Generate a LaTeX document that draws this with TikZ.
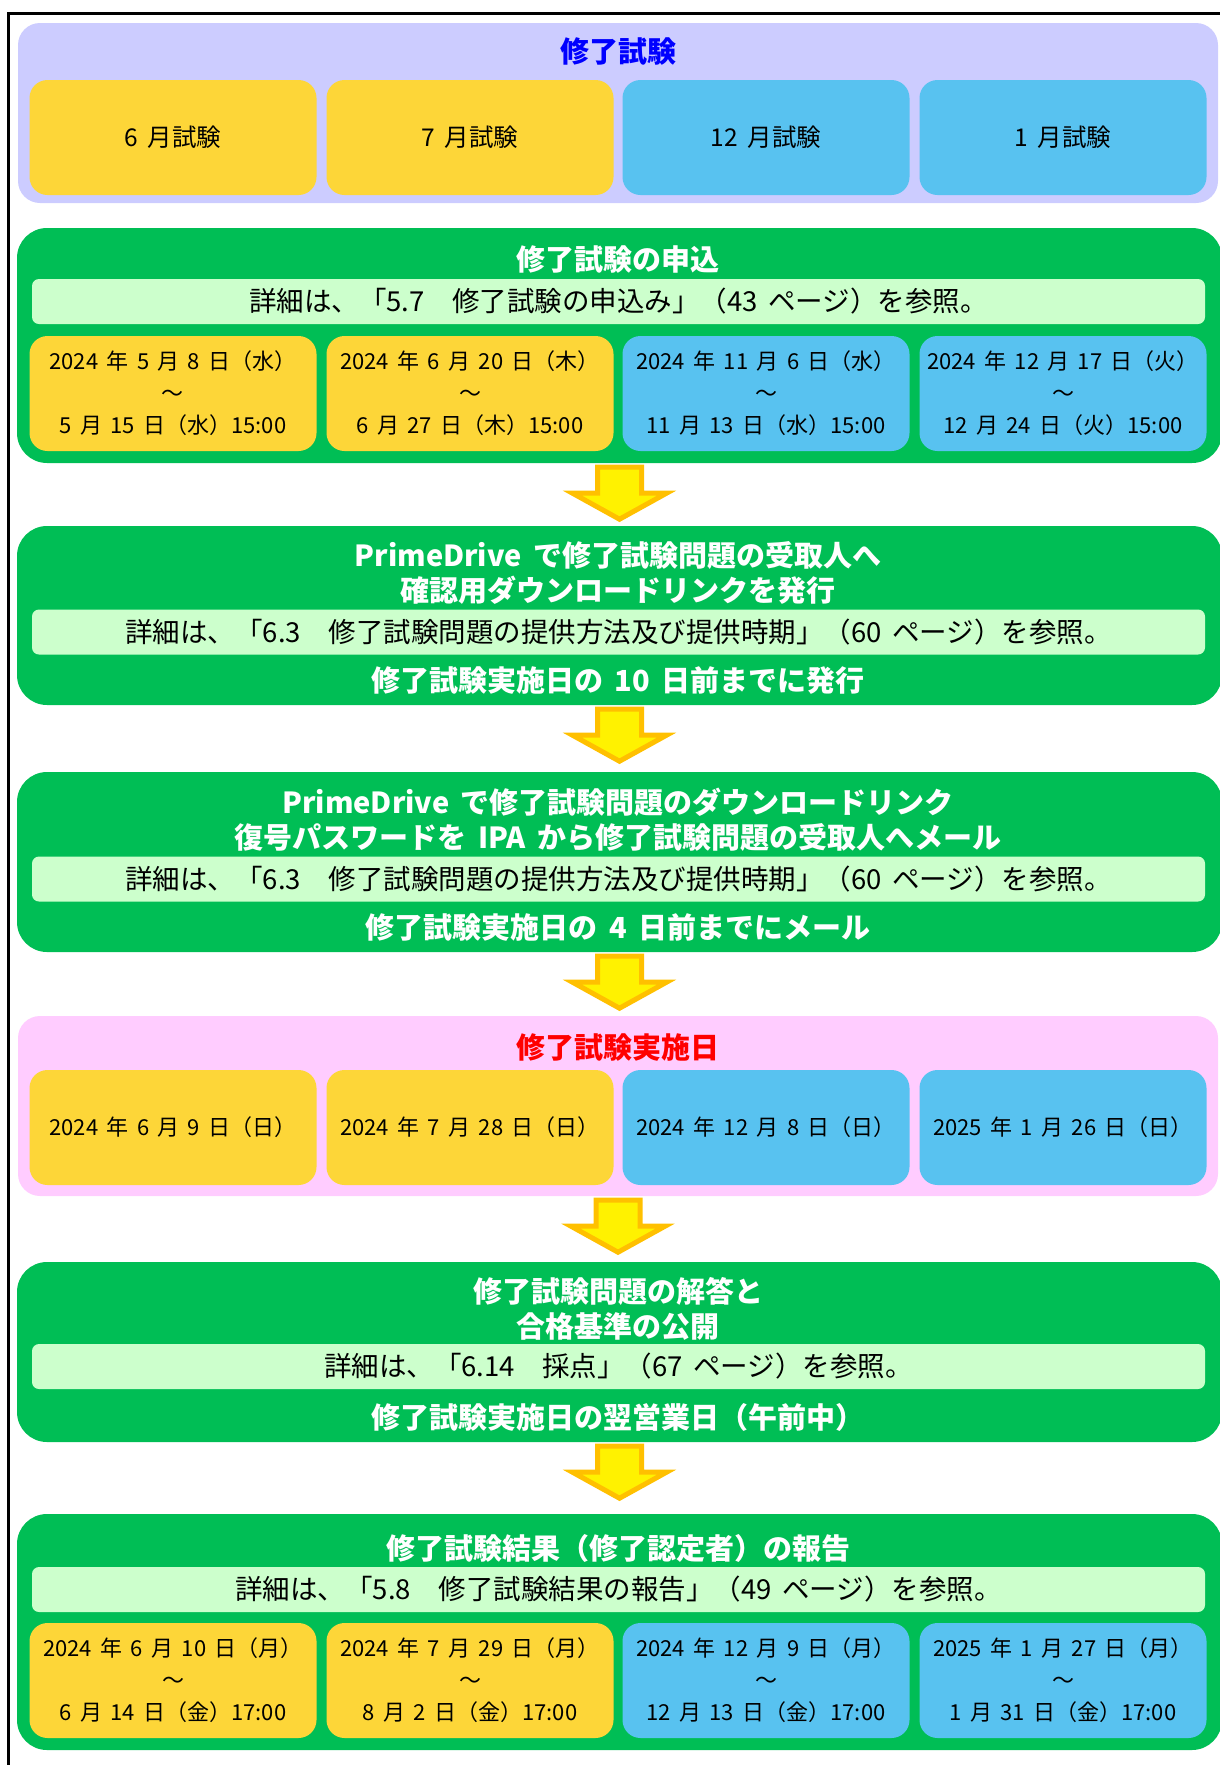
\documentclass[tikz,border=0pt]{standalone}
\usepackage{fontspec}
\setmainfont[WordSpace=1.7]{Noto Sans CJK JP}
\usetikzlibrary{calc}
\definecolor{panelblue}{HTML}{CCCCFF}
\definecolor{panelpink}{HTML}{FFCCFF}
\definecolor{panelgreen}{HTML}{00BE55}
\definecolor{barmint}{HTML}{CCFFCC}
\definecolor{cellgold}{HTML}{FDD638}
\definecolor{cellsky}{HTML}{58C2F0}
\definecolor{arrowedge}{HTML}{FFC000}
\newcommand{\flowarrow}[2]{%
  \draw[blockarrow] ($(#1.south)+(-22,4)$) -- ++(44,0) -- ++(0,26) -- ++(25,0)
    -- ($(#1.south)!56pt!(#1.south |- #2.north)$) -- ++(-47,-26) -- ++(25,0) -- cycle;}
\begin{document}
\begin{tikzpicture}[x=1pt, y=-1pt,
  panel/.style={rounded corners=22, minimum width=1200, minimum height=180, inner sep=0},
  greenpanel/.style={panel, fill=panelgreen, rounded corners=30, minimum width=1205},
  cell/.style={rounded corners=18, minimum width=287, minimum height=115, inner sep=0, align=center, font=\fontsize{22}{32}\selectfont},
  gold/.style={cell, fill=cellgold},
  sky/.style={cell, fill=cellsky},
  infobar/.style={fill=barmint, rounded corners=7, minimum width=1173, minimum height=45, inner sep=0, font=\fontsize{27.5}{34}\selectfont},
  heading/.style={font=\fontsize{29}{35}\selectfont\bfseries, text=white, align=center, inner sep=0},
  blockarrow/.style={fill=yellow, draw=arrowedge, line width=5, line join=miter},
]
  \useasboundingbox (0,0) rectangle (1219,1765);
  \draw[line width=3] (8,1775) -- (8,13) -- (1230,13);

  \node[panel, fill=panelblue] (exams) at (618,113) {};
  \node[heading, text=blue] (examstitle) at (618,52) {修了試験};
  \node[gold, font=\fontsize{24.5}{30}\selectfont] (exam6) at (173,137.5) {6 月試験};
  \node[gold, font=\fontsize{24.5}{30}\selectfont] (exam7) at (470,137.5) {7 月試験};
  \node[sky, font=\fontsize{24.5}{30}\selectfont] (exam12) at (766,137.5) {12 月試験};
  \node[sky, font=\fontsize{24.5}{30}\selectfont] (exam1) at (1063,137.5) {1 月試験};

  \node[greenpanel, minimum height=235] (apply) at (619.5,345.5) {};
  \node[heading] (applytitle) at (618,260) {修了試験の申込};
  \node[infobar] (applybar) at (618.5,301.5) {詳細は、「5.7　修了試験の申込み」（43 ページ）を参照。};
  \node[gold] (apply6) at (173,393.5) {2024 年 5 月 8 日（水）\\～\\5 月 15 日（水）15:00};
  \node[gold] (apply7) at (470,393.5) {2024 年 6 月 20 日（木）\\～\\6 月 27 日（木）15:00};
  \node[sky] (apply12) at (766,393.5) {2024 年 11 月 6 日（水）\\～\\11 月 13 日（水）15:00};
  \node[sky] (apply1) at (1063,393.5) {2024 年 12 月 17 日（火）\\～\\12 月 24 日（火）15:00};

  \node[greenpanel, minimum height=179] (confirm) at (619.5,615.5) {};
  \node[heading] (confirmtitle) at (618,572.5) {PrimeDrive で修了試験問題の受取人へ\\確認用ダウンロードリンクを発行};
  \node[infobar] (confirmbar) at (618.5,632) {詳細は、「6.3　修了試験問題の提供方法及び提供時期」（60 ページ）を参照。};
  \node[heading] (confirmnote) at (618,680) {修了試験実施日の 10 日前までに発行};

  \node[greenpanel] (password) at (619.5,862) {};
  \node[heading] (passwordtitle) at (618,819.5) {PrimeDrive で修了試験問題のダウンロードリンク\\復号パスワードを IPA から修了試験問題の受取人へメール};
  \node[infobar] (passwordbar) at (618.5,879) {詳細は、「6.3　修了試験問題の提供方法及び提供時期」（60 ページ）を参照。};
  \node[heading] (passwordnote) at (618,927) {修了試験実施日の 4 日前までにメール};

  \node[panel, fill=panelpink] (examday) at (618,1106) {};
  \node[heading, text=red] (examdaytitle) at (618,1047) {修了試験実施日};
  \node[gold] (examday6) at (173,1127.5) {2024 年 6 月 9 日（日）};
  \node[gold] (examday7) at (470,1127.5) {2024 年 7 月 28 日（日）};
  \node[sky] (examday12) at (766,1127.5) {2024 年 12 月 8 日（日）};
  \node[sky] (examday1) at (1063,1127.5) {2025 年 1 月 26 日（日）};

  \node[greenpanel] (answers) at (619.5,1352) {};
  \node[heading] (answerstitle) at (618,1308.5) {修了試験問題の解答と\\合格基準の公開};
  \node[infobar] (answersbar) at (618.5,1366.5) {詳細は、「6.14　採点」（67 ページ）を参照。};
  \node[heading] (answersnote) at (618,1417) {修了試験実施日の翌営業日（午前中）};

  \node[greenpanel, minimum height=236] (report) at (619.5,1632) {};
  \node[heading] (reporttitle) at (618,1548) {修了試験結果（修了認定者）の報告};
  \node[infobar] (reportbar) at (618.5,1589.5) {詳細は、「5.8　修了試験結果の報告」（49 ページ）を参照。};
  \node[gold] (report6) at (173,1680.5) {2024 年 6 月 10 日（月）\\～\\6 月 14 日（金）17:00};
  \node[gold] (report7) at (470,1680.5) {2024 年 7 月 29 日（月）\\～\\8 月 2 日（金）17:00};
  \node[sky] (report12) at (766,1680.5) {2024 年 12 月 9 日（月）\\～\\12 月 13 日（金）17:00};
  \node[sky] (report1) at (1063,1680.5) {2025 年 1 月 27 日（月）\\～\\1 月 31 日（金）17:00};

  \flowarrow{apply}{confirm}
  \flowarrow{confirm}{password}
  \flowarrow{password}{examday}
  \flowarrow{examday}{answers}
  \flowarrow{answers}{report}
\end{tikzpicture}
\end{document}
